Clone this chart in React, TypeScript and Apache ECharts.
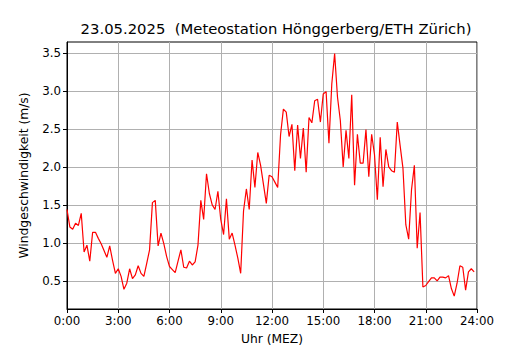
import React, { useEffect, useRef } from "react";
import * as echarts from "echarts";

const titleText = "23.05.2025  (Meteostation Hönggerberg/ETH Zürich)";
const xAxisName = "Uhr (MEZ)";
const yAxisName = "Windgeschwindigkeit (m/s)";

// 10-minute wind speed values from 0:00 to 23:50
const windSpeed: number[] = [
  1.44, 1.21, 1.18, 1.26, 1.23, 1.39, 0.88, 0.97, 0.76, 1.14,
  1.14, 1.06, 0.99, 0.90, 0.81, 0.96, 0.77, 0.60, 0.66, 0.56,
  0.39, 0.47, 0.66, 0.53, 0.58, 0.70, 0.60, 0.56, 0.73, 0.91,
  1.53, 1.56, 0.96, 1.13, 0.99, 0.82, 0.69, 0.65, 0.61, 0.76,
  0.91, 0.68, 0.67, 0.76, 0.71, 0.75, 0.97, 1.56, 1.31, 1.91,
  1.65, 1.50, 1.44, 1.68, 1.31, 1.11, 1.58, 1.05, 1.13, 0.97,
  0.80, 0.60, 1.42, 1.71, 1.44, 2.09, 1.73, 2.19, 2.02, 1.77,
  1.52, 1.89, 1.87, 1.80, 1.73, 2.42, 2.76, 2.72, 2.40, 2.56,
  1.95, 2.55, 2.11, 2.51, 1.93, 2.65, 2.58, 2.87, 2.89, 2.59,
  2.96, 2.99, 2.31, 3.09, 3.49, 2.92, 2.61, 2.00, 2.48, 2.11,
  2.95, 1.76, 2.43, 2.05, 2.05, 2.49, 1.87, 2.43, 2.16, 1.57,
  2.39, 1.74, 2.23, 2.00, 1.95, 1.93, 2.59, 2.28, 1.98, 1.24,
  1.05, 1.70, 2.02, 0.93, 1.40, 0.42, 0.44, 0.49, 0.54, 0.54,
  0.50, 0.55, 0.55, 0.54, 0.57, 0.40, 0.30, 0.47, 0.70, 0.68,
  0.38, 0.62, 0.66, 0.62,
];

const stepMinutes = 10;
const xTickHours = [0, 3, 6, 9, 12, 15, 18, 21, 24];
const yTickValues = [0.5, 1.0, 1.5, 2.0, 2.5, 3.0, 3.5];
const yMin = 0.131;
const yMax = 3.643;

const FONT = "DejaVu Sans";

export default function App() {
  const ref = useRef<HTMLDivElement>(null);

  useEffect(() => {
    if (!ref.current) return;
    const chart = echarts.init(ref.current, undefined, { renderer: "svg" });
    const data = windSpeed.map((v, i) => [(i * stepMinutes) / 60, v]);

    chart.setOption({
      animation: false,
      backgroundColor: "#ffffff",
      title: {
        text: titleText,
        left: 271,
        top: 16,
        textAlign: "center",
        textStyle: {
          fontFamily: FONT,
          fontSize: 14.8,
          fontWeight: "normal",
          color: "#000",
        },
      },
      grid: {
        left: 67,
        right: 53,
        top: 42,
        bottom: 37,
        show: true,
        borderColor: "#000",
        borderWidth: 1,
        backgroundColor: "transparent",
      },
      xAxis: {
        type: "value",
        min: 0,
        max: 24,
        interval: 3,
        name: xAxisName,
        nameLocation: "middle",
        nameGap: 24,
        nameTextStyle: { fontFamily: FONT, fontSize: 12.3, color: "#000" },
        axisLine: { show: true, lineStyle: { color: "#000", width: 1 } },
        axisTick: {
          show: true,
          inside: false,
          length: 4,
          lineStyle: { color: "#000", width: 1 },
          customValues: xTickHours,
        },
        axisLabel: {
          fontFamily: FONT,
          fontSize: 11.8,
          color: "#000",
          margin: 6,
          customValues: xTickHours,
          formatter: (v: number) => `${v}:00`,
        },
        splitLine: { show: true, lineStyle: { color: "#b0b0b0", width: 1 } },
      },
      yAxis: {
        type: "value",
        min: yMin,
        max: yMax,
        name: yAxisName,
        nameLocation: "middle",
        nameGap: 37,
        nameTextStyle: { fontFamily: FONT, fontSize: 12.3, color: "#000" },
        axisLine: { show: true, lineStyle: { color: "#000", width: 1 } },
        axisTick: {
          show: true,
          inside: false,
          length: 4,
          lineStyle: { color: "#000", width: 1 },
          customValues: yTickValues,
        },
        axisLabel: {
          fontFamily: FONT,
          fontSize: 11.8,
          color: "#000",
          margin: 6,
          customValues: yTickValues,
          formatter: (v: number) => v.toFixed(1),
        },
        splitLine: { show: true, lineStyle: { color: "#b0b0b0", width: 1 } },
      },
      series: [
        {
          type: "line",
          data,
          showSymbol: false,
          symbol: "none",
          lineStyle: { color: "#ff0000", width: 1.2 },
          itemStyle: { color: "#ff0000" },
          z: 3,
        },
      ],
    });

    return () => chart.dispose();
  }, []);

  return (
    <div
      ref={ref}
      style={{ position: "fixed", left: 0, top: 0, width: 530, height: 350 }}
    />
  );
}
